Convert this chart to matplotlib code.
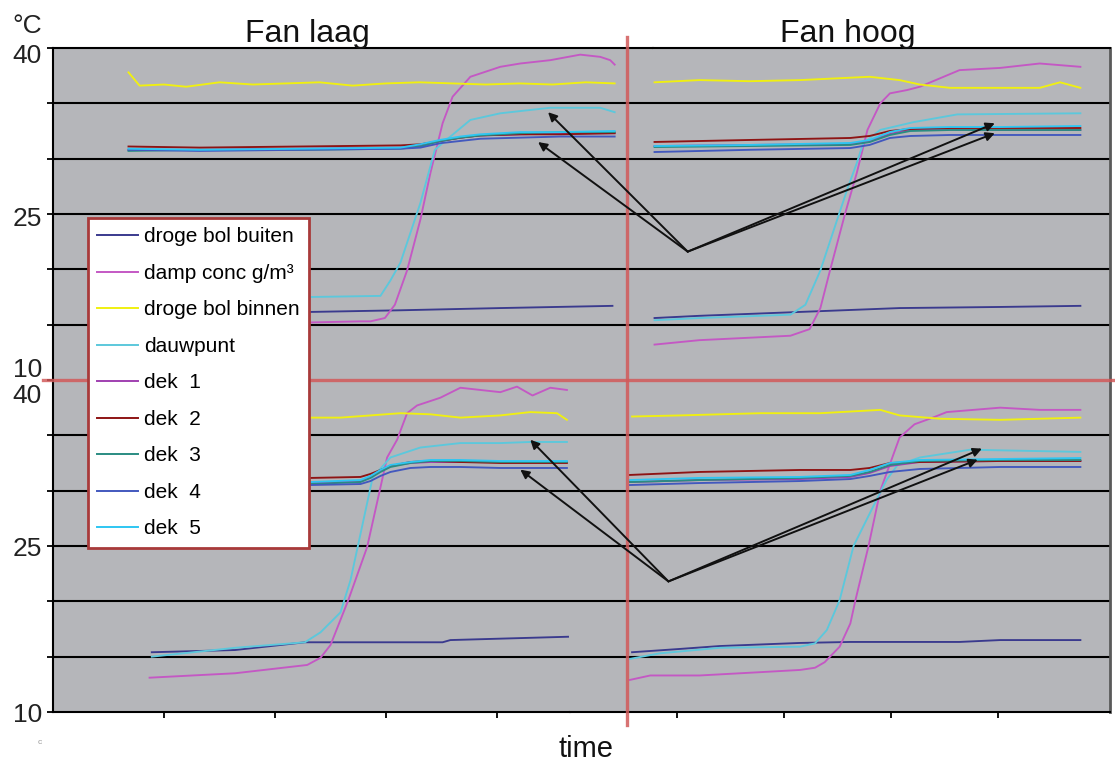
import matplotlib
matplotlib.use("Agg")
import matplotlib.pyplot as plt
from matplotlib.patches import ConnectionPatch
from matplotlib.lines import Line2D
from matplotlib.transforms import ScaledTranslation

plt.rcParams['font.family'] = ['Liberation Sans', 'DejaVu Sans']

# ---------------- data ----------------
SERIES = ["droge bol buiten", "damp conc g/m\u00b3", "droge bol binnen", "dauwpunt",
          "dek  1", "dek  2", "dek  3", "dek  4", "dek  5"]
COLORS = ['#3A3A8E', '#C458C4', '#F0F010', '#5CC8DC', '#A040B0',
          '#8E1414', '#2A8C82', '#4258BE', '#2EC6F2']
TITLES = ["Fan laag", "Fan hoog"]
Y_TICKS = [10, 15, 20, 25, 30, 35, 40]
Y_LABELS = ['10', '', '', '25', '', '', '40']
X_TICKS = [1, 2, 3, 4]
Y_UNIT = "\u00b0C"
X_LABEL = "time"

# top-left (Fan laag, run 1)
TL_YEL_T = [0.68, 0.78, 1.0, 1.2, 1.5, 1.8, 2.1, 2.4, 2.7, 3.0, 3.3, 3.6, 3.9, 4.2, 4.5, 4.8, 5.06]
TL_YEL_V = [37.8, 36.6, 36.7, 36.5, 36.9, 36.7, 36.8, 36.9, 36.6, 36.8, 36.9, 36.8, 36.7, 36.8, 36.7, 36.9, 36.8]
TL_DAMP_T = [0.68, 1.32, 2.32, 2.77, 2.86, 2.99, 3.08, 3.19, 3.31, 3.40, 3.51, 3.60, 3.76, 3.85, 4.03, 4.21, 4.48, 4.75, 4.93, 5.02, 5.06]
TL_DAMP_V = [14.6, 14.9, 15.2, 15.3, 15.3, 15.6, 16.8, 19.9, 24.5, 28.7, 33.2, 35.6, 37.4, 37.7, 38.3, 38.6, 38.9, 39.4, 39.2, 38.9, 38.5]
TL_DEW_T = [0.68, 2.32, 2.95, 3.04, 3.13, 3.31, 3.44, 3.58, 3.76, 4.03, 4.48, 4.93, 5.06]
TL_DEW_V = [17.2, 17.5, 17.6, 19.0, 20.6, 26.0, 30.8, 32.0, 33.5, 34.1, 34.6, 34.6, 34.2]
TL_OUT_T = [0.68, 2.32, 3.13, 4.03, 5.04]
TL_OUT_V = [16.0, 16.15, 16.3, 16.5, 16.7]
TL_DEK_T = [0.68, 1.32, 2.23, 3.13, 3.31, 3.49, 3.67, 3.85, 4.21, 4.57, 5.06]
TL_DEK1 = [30.8, 30.8, 30.9, 31.0, 31.2, 31.6, 31.9, 32.1, 32.2, 32.3, 32.3]
TL_DEK2 = [31.1, 31.0, 31.1, 31.2, 31.3, 31.6, 31.9, 32.1, 32.2, 32.2, 32.3]
TL_DEK3 = [30.7, 30.8, 30.8, 30.9, 31.1, 31.6, 31.9, 32.1, 32.3, 32.4, 32.4]
TL_DEK4 = [30.8, 30.7, 30.8, 30.9, 31.0, 31.4, 31.6, 31.8, 31.9, 32.0, 32.0]
TL_DEK5 = [30.9, 30.8, 30.9, 31.0, 31.3, 31.7, 32.0, 32.2, 32.4, 32.4, 32.5]

# top-right (Fan hoog, run 1)
TR_YEL_T = [0.79, 1.21, 1.68, 2.15, 2.80, 3.08, 3.27, 3.55, 4.02, 4.39, 4.58, 4.77]
TR_YEL_V = [36.9, 37.1, 37.0, 37.1, 37.4, 37.1, 36.7, 36.4, 36.4, 36.4, 36.9, 36.4]
TR_DAMP_T = [0.79, 1.21, 2.06, 2.24, 2.34, 2.43, 2.57, 2.68, 2.78, 2.90, 2.99, 3.15, 3.27, 3.64, 4.02, 4.39, 4.77]
TR_DAMP_V = [13.2, 13.6, 14.0, 14.6, 16.5, 19.9, 25.0, 28.7, 32.6, 35.0, 35.9, 36.2, 36.5, 38.0, 38.2, 38.6, 38.3]
TR_DEW_T = [0.79, 1.21, 2.06, 2.20, 2.34, 2.59, 2.68, 2.74, 2.90, 3.21, 3.62, 4.77]
TR_DEW_V = [15.4, 15.6, 15.9, 16.8, 19.9, 27.2, 29.6, 31.4, 32.6, 33.3, 34.0, 34.1]
TR_OUT_T = [0.79, 1.21, 2.15, 3.08, 4.02, 4.77]
TR_OUT_V = [15.6, 15.8, 16.15, 16.5, 16.6, 16.7]
TR_DEK_T = [0.79, 1.68, 2.62, 2.80, 2.99, 3.18, 3.55, 4.02, 4.77]
TR_DEK1 = [31.14, 31.24, 31.33, 31.6, 32.23, 32.59, 32.68, 32.59, 32.59]
TR_DEK2 = [31.51, 31.69, 31.87, 32.05, 32.5, 32.68, 32.77, 32.77, 32.77]
TR_DEK3 = [31.05, 31.14, 31.24, 31.5, 32.14, 32.5, 32.59, 32.59, 32.59]
TR_DEK4 = [30.6, 30.8, 30.96, 31.24, 31.87, 32.05, 32.14, 32.14, 32.14]
TR_DEK5 = [31.14, 31.24, 31.42, 31.69, 32.41, 32.77, 32.86, 32.86, 32.95]

# bottom-left (Fan laag, run 2)
BL_YEL_T = [0.87, 1.77, 2.32, 2.59, 3.13, 3.40, 3.67, 4.03, 4.30, 4.54, 4.63]
BL_YEL_V = [36.6, 36.6, 36.6, 36.6, 37.0, 36.9, 36.6, 36.8, 37.1, 37.0, 36.4]
BL_DAMP_T = [0.87, 1.64, 2.29, 2.41, 2.50, 2.66, 2.83, 3.01, 3.10, 3.19, 3.28, 3.49, 3.67, 4.03, 4.18, 4.32, 4.48, 4.63]
BL_DAMP_V = [13.1, 13.5, 14.25, 14.9, 16.05, 20.1, 24.9, 33.0, 34.6, 37.0, 37.7, 38.4, 39.3, 38.9, 39.4, 38.6, 39.3, 39.1]
BL_DEW_T = [0.89, 1.64, 2.27, 2.41, 2.59, 2.68, 2.88, 3.04, 3.31, 3.67, 4.03, 4.30, 4.63]
BL_DEW_V = [15.0, 15.8, 16.3, 17.2, 19.0, 21.9, 31.2, 33.0, 33.9, 34.3, 34.3, 34.4, 34.4]
BL_OUT_T = [0.89, 1.64, 2.27, 3.51, 3.58, 4.64]
BL_OUT_V = [15.4, 15.6, 16.3, 16.3, 16.5, 16.8]
BL_DEK_T = [0.87, 2.32, 2.77, 2.86, 2.95, 3.04, 3.22, 3.40, 3.67, 4.03, 4.63]
BL_DEK1 = [30.69, 30.69, 30.87, 31.24, 31.78, 32.23, 32.5, 32.59, 32.59, 32.59, 32.59]
BL_DEK2 = [31.15, 31.15, 31.24, 31.51, 31.87, 32.23, 32.59, 32.68, 32.59, 32.5, 32.5]
BL_DEK3 = [30.6, 30.6, 30.78, 31.15, 31.69, 32.14, 32.5, 32.68, 32.68, 32.59, 32.59]
BL_DEK4 = [30.51, 30.51, 30.6, 30.87, 31.33, 31.69, 32.05, 32.14, 32.14, 32.05, 32.05]
BL_DEK5 = [30.78, 30.78, 30.96, 31.33, 31.87, 32.32, 32.59, 32.77, 32.77, 32.68, 32.68]

# bottom-right (Fan hoog, run 2)
BR_YEL_T = [0.58, 1.03, 1.78, 2.34, 2.90, 3.08, 3.46, 4.02, 4.77]
BR_YEL_V = [36.7, 36.8, 37.0, 37.0, 37.3, 36.8, 36.5, 36.4, 36.6]
BR_DAMP_T = [0.56, 0.75, 1.21, 1.78, 2.15, 2.29, 2.38, 2.52, 2.62, 2.67, 2.79, 2.90, 3.08, 3.22, 3.39, 3.52, 4.02, 4.39, 4.77]
BR_DAMP_V = [12.9, 13.3, 13.3, 13.6, 13.8, 14.0, 14.5, 15.9, 18.0, 20.2, 25.0, 30.0, 34.8, 36.0, 36.6, 37.1, 37.5, 37.3, 37.3]
BR_DEW_T = [0.56, 0.84, 1.40, 2.15, 2.29, 2.40, 2.52, 2.65, 2.83, 2.96, 3.06, 3.27, 3.74, 4.77]
BR_DEW_V = [14.8, 15.3, 15.8, 15.9, 16.2, 17.4, 20.1, 25.0, 28.5, 31.0, 32.3, 33.0, 33.7, 33.5]
BR_OUT_T = [0.58, 1.03, 1.40, 2.15, 2.62, 3.64, 4.02, 4.77]
BR_OUT_V = [15.4, 15.7, 15.96, 16.24, 16.33, 16.33, 16.5, 16.5]
BR_DEK_T = [0.56, 1.21, 2.15, 2.62, 2.80, 2.99, 3.27, 4.02, 4.77]
BR_DEK1 = [30.78, 30.96, 31.05, 31.24, 31.6, 32.23, 32.59, 32.68, 32.68]
BR_DEK2 = [31.42, 31.69, 31.87, 31.87, 32.05, 32.5, 32.59, 32.68, 32.68]
BR_DEK3 = [30.78, 30.96, 31.15, 31.33, 31.69, 32.32, 32.68, 32.77, 32.77]
BR_DEK4 = [30.51, 30.69, 30.87, 31.05, 31.33, 31.69, 31.96, 32.14, 32.14]
BR_DEK5 = [30.96, 31.15, 31.24, 31.42, 31.87, 32.5, 32.77, 32.86, 32.95]

# annotation arrows: (time, value) of the common origin and the tips
TOP_ARROW_ORIGIN = (1.10, 21.6)
TOP_TIPS_LEFT = [(4.46, 34.2), (4.37, 31.5)]
TOP_TIPS_RIGHT = [(3.97, 33.2), (3.97, 32.3)]
BOT_ARROW_ORIGIN = (0.92, 21.8)
BOT_TIPS_LEFT = [(4.30, 34.6), (4.21, 31.9)]
BOT_TIPS_RIGHT = [(3.85, 33.8), (3.81, 32.8)]

# ---------------- figure ----------------
W, H = 1115, 762
fig = plt.figure(figsize=(W / 100, H / 100), dpi=100)
fig.patch.set_facecolor('white')
BG = '#B5B6BA'
RED = '#D25A5A'


def px_axes(x0, y0, x1, y1):
    return fig.add_axes([x0 / W, 1 - y1 / H, (x1 - x0) / W, (y1 - y0) / H])


ax_tl = px_axes(53, 48, 653, 380)
ax_tr = px_axes(653, 48, 1110, 380)
ax_bl = px_axes(53, 380, 570, 712)
ax_br = px_axes(570, 380, 1110, 712)

ax_tl.set_xlim(0, 600 / 111)
ax_bl.set_xlim(0, 517 / 111)
ax_tr.set_xlim(83 / 107, 540 / 107)
ax_br.set_xlim(0, 540 / 107)


def draw_panel(ax, out, damp, yel, dew, dek_t, deks):
    ax.set_facecolor(BG)
    ax.set_ylim(10, 40)
    for v in Y_TICKS[1:-1]:
        ax.axhline(v, color='black', lw=1.5, zorder=1)
    lw = 1.35
    ax.plot(*out, color=COLORS[0], lw=lw, zorder=3)
    ax.plot(*damp, color=COLORS[1], lw=lw, zorder=3)
    ax.plot(*yel, color=COLORS[2], lw=lw, zorder=3)
    ax.plot(*dew, color=COLORS[3], lw=lw, zorder=3)
    for i, d in enumerate(deks):
        ax.plot(dek_t, d, color=COLORS[4 + i], lw=lw, zorder=3)
    for s in ax.spines.values():
        s.set_visible(False)


draw_panel(ax_tl, (TL_OUT_T, TL_OUT_V), (TL_DAMP_T, TL_DAMP_V), (TL_YEL_T, TL_YEL_V),
           (TL_DEW_T, TL_DEW_V), TL_DEK_T, [TL_DEK1, TL_DEK2, TL_DEK3, TL_DEK4, TL_DEK5])
draw_panel(ax_tr, (TR_OUT_T, TR_OUT_V), (TR_DAMP_T, TR_DAMP_V), (TR_YEL_T, TR_YEL_V),
           (TR_DEW_T, TR_DEW_V), TR_DEK_T, [TR_DEK1, TR_DEK2, TR_DEK3, TR_DEK4, TR_DEK5])
draw_panel(ax_bl, (BL_OUT_T, BL_OUT_V), (BL_DAMP_T, BL_DAMP_V), (BL_YEL_T, BL_YEL_V),
           (BL_DEW_T, BL_DEW_V), BL_DEK_T, [BL_DEK1, BL_DEK2, BL_DEK3, BL_DEK4, BL_DEK5])
draw_panel(ax_br, (BR_OUT_T, BR_OUT_V), (BR_DAMP_T, BR_DAMP_V), (BR_YEL_T, BR_YEL_V),
           (BR_DEW_T, BR_DEW_V), BR_DEK_T, [BR_DEK1, BR_DEK2, BR_DEK3, BR_DEK4, BR_DEK5])

# spines
for ax in (ax_tl, ax_tr):
    ax.spines['top'].set_visible(True)
    ax.spines['top'].set_linewidth(1.5)
for ax in (ax_bl, ax_br):
    ax.spines['bottom'].set_visible(True)
    ax.spines['bottom'].set_linewidth(1.5)
for ax in (ax_tl, ax_bl):
    ax.spines['left'].set_visible(True)
    ax.spines['left'].set_linewidth(1.5)
for ax in (ax_tr, ax_br):
    ax.spines['right'].set_visible(True)
    ax.spines['right'].set_linewidth(2.0)
    ax.spines['right'].set_color('#5A5A5A')

# ticks
for ax in (ax_tl, ax_tr):
    ax.set_xticks([])
for ax in (ax_tr, ax_br):
    ax.set_yticks([])
for ax in (ax_bl, ax_br):
    ax.set_xticks(X_TICKS)
    ax.set_xticklabels([])
    ax.tick_params(axis='x', direction='out', length=4, width=1.3, color='black')
for ax in (ax_tl, ax_bl):
    ax.set_yticks(Y_TICKS)
    ax.set_yticklabels(Y_LABELS)
    ax.tick_params(axis='y', direction='out', length=4, width=1.3, pad=4,
                   labelsize=19, labelcolor='#222222')

shift_top = {'40': -5, '25': -3, '10': 13}
shift_bot = {'40': -13, '25': 0, '10': 0}
for ax, shifts in ((ax_tl, shift_top), (ax_bl, shift_bot)):
    for lab in ax.get_yticklabels():
        dy = shifts.get(lab.get_text(), 0)
        lab.set_transform(lab.get_transform() + ScaledTranslation(0, dy / 100, fig.dpi_scale_trans))

# texts
fig.text(307 / W, 1 - 42 / H, TITLES[0], ha='center', va='baseline', fontsize=23, color='#111111')
fig.text(848 / W, 1 - 42 / H, TITLES[1], ha='center', va='baseline', fontsize=23, color='#111111')
fig.text(27 / W, 1 - 33 / H, Y_UNIT, ha='center', va='baseline', fontsize=19, color='#222222')
fig.text(586 / W, 1 - 757 / H, X_LABEL, ha='center', va='baseline', fontsize=21, color='#111111')
fig.text(40 / W, 1 - 742 / H, 'c', ha='center', va='center', fontsize=6, color='#9A9A9A')

# red divider lines
fig.add_artist(Line2D([627 / W, 627 / W], [1 - 37 / H, 1 - 725 / H], transform=fig.transFigure,
                      color=RED, lw=2.4, alpha=0.85, zorder=5))
fig.add_artist(Line2D([43 / W, 1.0], [1 - 380 / H, 1 - 380 / H], transform=fig.transFigure,
                      color=RED, lw=2.4, alpha=0.85, zorder=5))

# arrows
for origin, ax_o, tips in ((TOP_ARROW_ORIGIN, ax_tr, [(t, ax_tl) for t in TOP_TIPS_LEFT] + [(t, ax_tr) for t in TOP_TIPS_RIGHT]),
                           (BOT_ARROW_ORIGIN, ax_br, [(t, ax_bl) for t in BOT_TIPS_LEFT] + [(t, ax_br) for t in BOT_TIPS_RIGHT])):
    for tip, ax_t in tips:
        cp = ConnectionPatch(xyA=origin, coordsA=ax_o.transData, xyB=tip, coordsB=ax_t.transData,
                             arrowstyle='-|>', mutation_scale=13, lw=1.4, color='#111111', zorder=6)
        fig.add_artist(cp)

# legend
handles = [Line2D([], [], color=c, lw=1.4) for c in COLORS]
leg = fig.legend(handles, SERIES, loc='upper left', bbox_to_anchor=(88 / W, 1 - 218 / H),
                 frameon=True, fancybox=False, framealpha=1, facecolor='white', edgecolor='#A83A3A',
                 fontsize=15, handlelength=1.95, handletextpad=0.3, labelspacing=0.84,
                 borderpad=0.45, borderaxespad=0)
leg.get_frame().set_linewidth(2)
leg.set_zorder(7)

fig.savefig('out.png', dpi=100)
